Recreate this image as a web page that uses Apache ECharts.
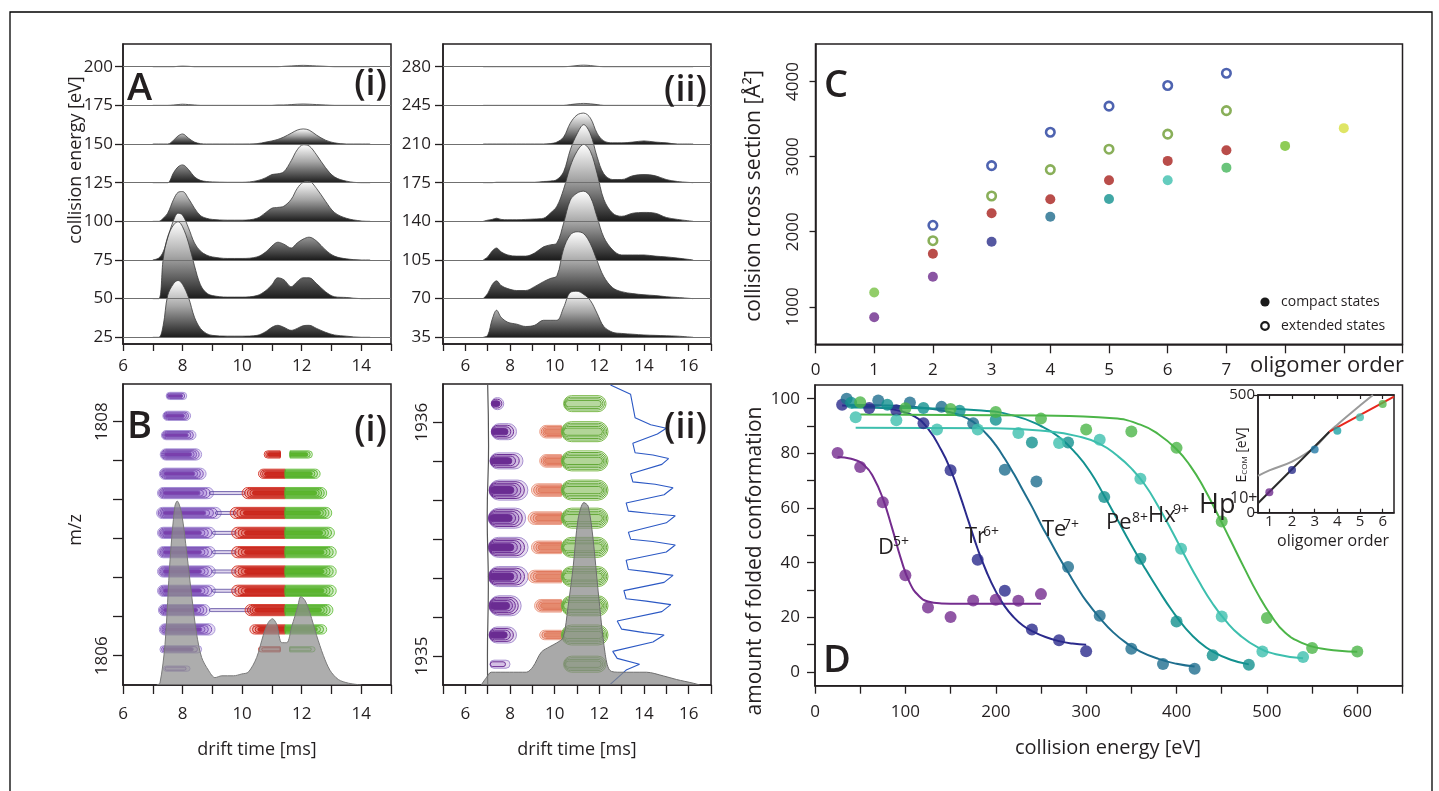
<!DOCTYPE html>
<html><head><meta charset="utf-8">
<script src="https://cdn.jsdelivr.net/npm/echarts@6/dist/echarts.min.js"></script>
<style>html,body{margin:0;padding:0;background:#fff}#c{width:1439px;height:791px}</style>
</head><body><div id="c"></div>
<script>
// ================= DATA =================
// Panel A(i): drift-time profiles (intensity, 100 = one row spacing) at collision energies
const driftAi = [7.0,7.2,7.35,7.5,7.7,7.85,8.0,8.2,8.4,8.6,8.8,9.0,9.5,10.0,10.5,10.8,11.0,11.2,11.4,11.65,11.85,12.05,12.25,12.5,12.8,13.1,13.5,14.0,14.3];
const energiesAi = [25,50,75,100,125,150,175,200];
const ai25  = [0,0,31,108,139,147,137,103,52,23,10,5,3,3,5,15,26,31,26,18,23,30,31,23,13,6,3,0,0];
const ai50  = [0,0,103,160,191,199,186,144,85,36,15,8,4,4,8,21,36,54,49,31,44,54,54,39,18,5,3,0,0];
const ai75  = [0,5,21,57,103,121,116,83,44,23,13,8,4,4,8,21,36,46,41,31,44,54,59,49,26,10,3,0,0];
const ai100 = [0,0,8,21,57,75,77,59,34,15,8,5,3,3,8,23,34,36,39,57,85,101,103,85,52,23,8,1,0];
const ai125 = [0,0,0,0,26,41,46,34,15,6,3,2,1,1,5,13,21,23,28,57,85,98,95,72,39,15,4,0,0];
const ai150 = [0,0,0,0,10,21,26,15,5,1,0,0,0,0,1,5,8,12,18,28,36,39,36,23,10,3,0,0,0];
const ai175 = [0,0,0,0,1,2,3,2,1,0,0,0,0,0,0,0,0,1,1,2,3,3.5,3,2,1,0,0,0,0];
const ai200 = [0,0,0,0,0,1,1.5,1,0,0,0,0,0,0,0,0,0,0,1,2,3,3.5,3,2,1,0,0,0,0];

// Panel A(ii)
const driftAii = [6.8,7.0,7.2,7.4,7.6,7.9,8.3,8.7,9.1,9.5,9.8,10.1,10.4,10.7,11.0,11.3,11.6,11.9,12.2,12.6,13.0,13.5,14.0,14.5,15.0,15.5,16.2];
const energiesAii = [35,70,105,140,175,210,245,280];
const aii35  = [0,5,46,70,52,39,34,28,31,44,44,44,77,116,119,111,95,62,28,13,10,8,6,5,4,3,0];
const aii70  = [0,13,36,46,34,26,21,21,31,44,52,59,129,165,173,168,142,98,57,28,18,13,10,8,5,3,0];
const aii105 = [0,8,23,31,21,13,10,10,18,34,39,44,95,155,173,178,163,111,59,26,13,13,13,10,8,5,0];
const aii140 = [0,3,5,8,5,4,4,5,6,8,21,39,83,142,181,199,181,124,57,21,13,21,23,21,10,5,0];
const aii175 = [0,0,0,1,1,1,1,1,1,3,4,8,28,85,126,150,126,67,23,8,8,18,21,18,8,3,0];
const aii210 = [0,0,0,0,0,0,0,0,0,0,1,5,18,54,75,80,67,28,8,3,3,5,8,5,3,0,0];
const aii245 = [0,0,0,0,0,0,0,0,0,0,0,0,0,2,4,5,4,2,0,0,0,0,0,0,0,0,0];
const aii280 = [0,0,0,0,0,0,0,0,0,0,0,0,0,1,3,4,3,1,0,0,0,0,0,0,0,0,0];

// Panel B(i): [drift left, drift right, m/z, contour level]
const purpleBi = [[7.36,8.25,1805.89,1],[7.24,8.64,1806.055,2],[7.22,9.09,1806.225,4],[7.19,8.92,1806.39,4],[7.16,9.1,1806.555,4],[7.16,9.1,1806.72,4],[7.16,9.1,1806.885,4],[7.16,9.1,1807.05,4],[7.13,9.3,1807.22,4],[7.16,9.04,1807.39,4],[7.22,8.79,1807.555,4],[7.25,8.64,1807.72,4],[7.29,8.45,1807.885,3],[7.34,8.27,1808.05,3],[7.45,8.14,1808.22,2]];
const neckBi = [[8.9,10.3,1806.39],[9.0,9.8,1806.555],[9.0,9.8,1806.72],[9.0,9.8,1806.885],[9.0,9.8,1807.05],[9.1,9.8,1807.22],[8.9,10.1,1807.39]];
const redBi = [[10.55,11.28,1806.055,1],[10.26,11.45,1806.225,3],[10.1,11.45,1806.39,4],[9.65,11.45,1806.555,4],[9.65,11.45,1806.72,4],[9.65,11.45,1806.885,4],[9.65,11.45,1807.05,4],[9.6,11.45,1807.22,4],[10.0,11.45,1807.39,4],[10.55,11.45,1807.555,3],[10.74,11.28,1807.72,2]];
const greenBi = [[11.6,12.45,1806.055,1],[11.45,12.84,1806.225,3],[11.45,13.05,1806.39,4],[11.45,13.16,1806.555,4],[11.45,13.16,1806.72,4],[11.45,13.16,1806.885,4],[11.45,13.1,1807.05,4],[11.45,13.01,1807.22,4],[11.45,12.84,1807.39,4],[11.45,12.62,1807.555,3],[11.61,12.36,1807.72,2]];
const profileBiDrift = [7.13,7.24,7.41,7.58,7.74,7.82,7.97,8.14,8.31,8.47,8.64,8.87,9.09,9.32,9.71,9.99,10.21,10.49,10.71,10.88,11.02,11.16,11.33,11.5,11.67,11.86,11.97,12.11,12.28,12.5,12.73,12.95,13.23,13.57,14.01];
const profileBiInt = [0,1,22,68,97,100,93,72,48,28,15,8,4,5,5,6,7,15,27,34,36,33,23,23,32,42,48,46,39,27,16,8,3,1,0];

// Panel B(ii)
const purpleBii = [[7.1,8.0,1934.965,1],[7.06,8.29,1935.09,3],[7.06,8.5,1935.215,4],[7.03,8.81,1935.34,4],[7.03,8.81,1935.465,4],[7.03,8.7,1935.59,4],[7.06,8.8,1935.71,4],[7.1,8.58,1935.835,3],[7.16,8.29,1935.96,3],[7.16,7.72,1936.08,2]];
const redBii = [[9.33,10.3,1935.09,2],[9.1,10.3,1935.215,3],[8.81,10.3,1935.34,3],[8.96,10.3,1935.465,3],[8.81,10.3,1935.59,3],[8.96,10.3,1935.71,3],[9.33,10.3,1935.835,3],[9.33,10.3,1935.96,3]];
const greenBii = [[10.4,12.3,1934.965,3],[10.3,12.39,1935.09,4],[10.3,12.39,1935.215,4],[10.3,12.39,1935.34,4],[10.3,12.39,1935.465,4],[10.3,12.39,1935.59,4],[10.3,12.39,1935.71,4],[10.3,12.39,1935.835,4],[10.3,12.39,1935.96,4],[10.4,12.3,1936.08,3]];
const blueBii = [[12.5,1936.16],[13.4,1936.12],[13.6,1936.02],[14.3,1935.99],[15.0,1935.975],[14.6,1935.95],[13.5,1935.91],[13.6,1935.87],[14.4,1935.86],[15.1,1935.845],[14.8,1935.82],[13.4,1935.78],[13.5,1935.745],[14.5,1935.735],[15.3,1935.72],[14.9,1935.69],[13.2,1935.655],[13.3,1935.62],[14.3,1935.61],[15.4,1935.6],[15.0,1935.57],[13.3,1935.53],[13.4,1935.5],[14.4,1935.49],[15.4,1935.475],[15.0,1935.445],[13.2,1935.41],[13.3,1935.37],[14.2,1935.36],[15.3,1935.345],[14.9,1935.315],[13.1,1935.28],[13.2,1935.245],[14.1,1935.235],[15.2,1935.22],[14.8,1935.19],[12.8,1935.15],[13.0,1935.115],[14.0,1935.1],[14.9,1935.09],[14.4,1935.06],[12.6,1935.02],[12.8,1934.99],[13.8,1934.965],[13.2,1934.94],[12.5,1934.88]];
const edgeBii = [[7.0,1936.16],[7.04,1935.9],[6.98,1935.6],[7.03,1935.3],[6.99,1935.0],[7.0,1934.88]];
const profileBiiDrift = [6.71,6.94,7.16,7.98,8.73,9.03,9.4,9.78,10.08,10.38,10.6,10.83,11.05,11.31,11.5,11.72,11.95,12.25,12.47,12.92,13.52,14.11,14.86,15.46,16.2,16.5];
const profileBiiInt = [0,4,7,7,7,10,18,21,23,26,43,65,91,100,98,80,51,18,8,7,7,7,5,3,1,0];

// Panel C: collision cross sections [Å²] vs oligomer order
const orderCompact = [1,1,2,3,4,5,6,7,8,9];
const ccsCompact = [860,1190,1400,1867,2200,2436,2685,2853,3143,3379];
const orderRed = [2,3,4,5,6,7];
const ccsRed = [1707,2245,2432,2685,2943,3085];
const orderExtBlue = [2,3,4,5,6,7];
const ccsExtBlue = [2085,2880,3325,3672,3947,4111];
const orderExtGreen = [2,3,4,5,6,7];
const ccsExtGreen = [1880,2476,2827,3099,3299,3613];

// Panel D: amount of folded conformation [%] vs collision energy [eV]
const ceD = [25,50,75,100,125,150,175,200,225,250];
const foldD = [80.1,75,62.1,35.4,23.6,20.1,26.2,26.4,26.1,28.5];
const ceTr = [30,60,90,120,150,180,210,240,270,300];
const foldTr = [97.8,96.6,95.8,91,73.8,41.1,29.7,15.6,11.6,7.6];
const ceTe = [35,70,105,140,175,210,245,280,315,350,385,420];
const foldTe = [100,99.3,98.6,97,91,74,69.7,38.4,20.6,8.5,2.9,1.2];
const cePe = [40,80,120,160,200,240,280,320,360,400,440,480];
const foldPe = [98.5,97.8,96.6,95.6,92.3,84,84,64,41.4,18.5,6.1,2.7];
const ceHx = [45,90,135,180,225,270,315,360,405,450,495,540];
const foldHx = [93.2,92.1,88.7,88.7,87.4,83.8,85,70.7,45.1,20.3,7.5,5.5];
const ceHp = [50,100,150,200,250,300,350,400,450,500,550,600];
const foldHp = [98.7,96.5,96.2,95.1,92.7,88.7,88,82,55.1,19.8,8.8,7.5];
// fitted curves
const fitD = [[25,78.7],[40,78],[55,75.5],[65,71],[75,63.5],[85,53],[95,41.5],[105,32.5],[115,27.8],[125,25.8],[140,25.1],[160,25],[250,25]];
const fitTr = [[30,97.5],[50,97.3],[70,96.8],[90,95.8],[110,93.5],[125,89],[140,81],[150,74],[160,65],[170,55],[180,45],[190,36.5],[200,29.5],[210,24],[220,20],[230,17],[240,15],[255,12.8],[270,11.3],[285,10.4],[300,10]];
const fitTe = [[35,97.8],[70,97.6],[105,97.1],[140,95.8],[160,94],[175,91.5],[190,87],[200,83],[210,78],[220,72.5],[230,66.5],[240,60.5],[250,54],[260,48],[270,42],[280,36.5],[290,31],[300,26],[315,19.8],[330,14.5],[345,10.5],[360,7.5],[380,4.8],[400,3],[420,2]];
const fitPe = [[40,96.8],[120,96.5],[180,95.8],[220,93.8],[250,90],[270,86],[290,79.5],[305,73],[320,64.5],[335,55.5],[350,46.5],[365,38],[380,30],[395,22.5],[410,16],[425,11],[440,7.5],[460,4.5],[480,2.8]];
const fitHx = [[45,89.4],[200,89.2],[260,88],[290,86.3],[315,83.5],[335,79],[350,74.5],[365,68.5],[380,60.5],[395,51.5],[410,42],[425,33],[440,25],[455,18.5],[470,13.5],[490,9],[510,6.5],[540,5]];
const fitHp = [[50,94.2],[250,93.8],[330,92.8],[360,90.5],[380,87],[400,81.5],[415,75.5],[430,67.5],[445,58],[460,48],[475,38],[490,28.5],[505,20.5],[520,14.5],[540,10.5],[560,8.6],[580,7.8],[600,7.4]];
// inset: E_COM at transition vs oligomer order
const insetOrder = [1,2,3,4,5,6];
const insetEcom = [87,181,269,348,405,462];
const insetFitBlack = [[0.5,40],[3.65,344]];
const insetFitGray = [[0.5,156],[1,180],[2,217],[3,278],[3.65,344],[4,374],[5,455],[5.57,500]];
const insetFitRed = [[3.65,344],[6.5,493]];

// ================= STYLE =================
const FONT = '"Open Sans","Noto Sans",sans-serif';
const INK = '#231f20';
const compactColors = ['#6d2b8c','#77c043','#6d2b8c','#2b2e8a','#1e6b8c','#12918f','#3dbfae','#45b55a','#72bf2c','#d7df3e'];
const insetColors = ['#6d2b8c','#2b2e8a','#2379a6','#1ea3a6','#43bfae','#56b84e'];
const dColors = {D:'#742c8e', Tr:'#2b2a8c', Te:'#1f6e8e', Pe:'#13918f', Hx:'#3dbfae', Hp:'#4cb548'};

const chart = echarts.init(document.getElementById('c'), null, {renderer:'canvas'});

function axis(gi, o) {
  return Object.assign({
    gridIndex: gi, type:'value',
    axisLine:{show:true, onZero:false, lineStyle:{color:INK, width:1.5}},
    axisTick:{show:true, length:7, lineStyle:{color:INK, width:1.3}},
    splitLine:{show:false},
    axisLabel:{fontFamily:FONT, color:INK, fontSize:17}
  }, o);
}
const evenFmt = v => (Math.abs(v % 2) < 1e-9 ? String(v) : '');
const plainFmt = v => String(Math.round(v));

const grids = [
  {left:123, top:44, width:268, height:300},
  {left:443, top:44, width:268, height:300},
  {left:123, top:384, width:268, height:301},
  {left:443, top:384, width:268, height:301},
  {left:815.5, top:44, width:587, height:300.3},
  {left:815, top:385, width:587.5, height:300.7},
  {left:1258, top:395, width:136, height:117.7}
].map(g => Object.assign({show:true, borderColor:INK, borderWidth:1.5, backgroundColor:'transparent'}, g));

const xAxes = [
  axis(0,{min:6,max:15,interval:1, axisLabel:{fontFamily:FONT,color:INK,fontSize:17,margin:14,formatter:evenFmt}}),
  axis(1,{min:5,max:17,interval:1, axisLabel:{fontFamily:FONT,color:INK,fontSize:17,margin:14,formatter:v=>(v>=6&&v<=16?evenFmt(v):'')}}),
  axis(2,{min:6,max:15,interval:1, axisTick:{show:true,length:9,lineStyle:{color:INK,width:1.3}}, axisLabel:{fontFamily:FONT,color:INK,fontSize:17,margin:21,formatter:evenFmt}}),
  axis(3,{min:5,max:17,interval:1, axisTick:{show:true,length:9,lineStyle:{color:INK,width:1.3}}, axisLabel:{fontFamily:FONT,color:INK,fontSize:17,margin:21,formatter:v=>(v>=6&&v<=16?evenFmt(v):'')}}),
  axis(4,{min:0,max:10,interval:1, axisTick:{show:true,length:9,lineStyle:{color:INK,width:1.3}}, axisLabel:{fontFamily:FONT,color:INK,fontSize:17,margin:17,formatter:v=>(v<=7?String(v):'')}}),
  axis(5,{min:0,max:650,interval:50, axisTick:{show:true,length:8,lineStyle:{color:INK,width:1.3}}, axisLabel:{fontFamily:FONT,color:INK,fontSize:17,margin:18,formatter:v=>(v%100===0?String(v):'')}}),
  axis(6,{min:0.5,max:6.5, axisLine:{show:true,onZero:false,lineStyle:{color:INK,width:1.5}}, axisTick:{show:true,inside:true,length:4,customValues:insetOrder,lineStyle:{color:INK,width:1.2}}, axisLabel:{fontFamily:FONT,color:INK,fontSize:15,margin:2,customValues:insetOrder}}),
  axis(6,{min:0.5,max:6.5, position:'top', axisLine:{show:true,onZero:false,lineStyle:{color:INK,width:1.5}}, axisTick:{show:true,inside:true,length:4,customValues:insetOrder,lineStyle:{color:INK,width:1.2}}, axisLabel:{show:false}})
];
const bTicksI = [1806,1806+1/3,1806+2/3,1807,1807+1/3,1807+2/3,1808];
const bTicksII = [0,1,2,3,4,5,6].map(k=>1935+k/6);
const yAxes = [
  axis(0,{min:20.67,max:214.68, axisTick:{show:true,length:8,customValues:energiesAi,lineStyle:{color:INK,width:1.3}}, axisLabel:{fontFamily:FONT,color:INK,fontSize:17,margin:10,customValues:energiesAi,formatter:plainFmt}}),
  axis(1,{min:28.93,max:300.55, axisTick:{show:true,length:8,customValues:energiesAii,lineStyle:{color:INK,width:1.3}}, axisLabel:{fontFamily:FONT,color:INK,fontSize:17,margin:12,customValues:energiesAii,formatter:plainFmt}}),
  axis(2,{min:1805.75,max:1808.322, axisTick:{show:true,length:10,customValues:bTicksI,lineStyle:{color:INK,width:1.3}}, axisLabel:{fontFamily:FONT,color:INK,fontSize:17,margin:12,rotate:90,customValues:[1806,1808],formatter:plainFmt}}),
  {gridIndex:2, type:'value', min:0, max:163.6, show:false},
  axis(3,{min:1934.876,max:1936.164, axisTick:{show:true,length:10,customValues:bTicksII,lineStyle:{color:INK,width:1.3}}, axisLabel:{fontFamily:FONT,color:INK,fontSize:17,margin:12,rotate:90,customValues:[1935,1936],formatter:plainFmt}}),
  {gridIndex:3, type:'value', min:0, max:165, show:false},
  axis(4,{min:500,max:4500, axisTick:{show:true,length:6,customValues:[1000,2000,3000,4000],lineStyle:{color:INK,width:1.3}}, axisLabel:{fontFamily:FONT,color:INK,fontSize:17,margin:14,rotate:90,customValues:[1000,2000,3000,4000],formatter:plainFmt}}),
  axis(5,{min:-5,max:105, axisTick:{show:true,length:8,customValues:[0,10,20,30,40,50,60,70,80,90,100],lineStyle:{color:INK,width:1.3}}, axisLabel:{fontFamily:FONT,color:INK,fontSize:17,margin:15,customValues:[0,20,40,60,80,100],formatter:plainFmt}}),
  axis(6,{min:0,max:500, axisTick:{show:true,length:4,customValues:[0,500],lineStyle:{color:INK,width:1.2}}, axisLabel:{fontFamily:FONT,color:INK,fontSize:15,margin:3,customValues:[0,500],formatter:plainFmt}})
];

// ---------- series builders ----------
const ridgeGrad = {type:'linear',x:0,y:0,x2:0,y2:1,colorStops:[{offset:0,color:'#ffffff'},{offset:0.45,color:'#a6a6a6'},{offset:1,color:'#1c1c1c'}]};
function ridges(xs, energies, traces, step, xi, yi) {
  const out = [];
  for (let i = energies.length - 1; i >= 0; i--) {
    const b = energies[i];
    out.push({type:'line', xAxisIndex:xi, yAxisIndex:yi, symbol:'none', smooth:0.35, silent:true,
      data: xs.map((x,j)=>[x, b + traces[i][j]*step/100]),
      lineStyle:{color:'#3a3a3a', width:0.8},
      areaStyle:{origin:b, opacity:1, color:ridgeGrad},
      markLine:{silent:true, symbol:'none', label:{show:false}, animation:false,
        lineStyle:{color:'#707070', width:1, type:'solid'}, data:[{yAxis:b}]},
      z:2});
  }
  return out;
}
function blobRenderer(kind, cfg) {
  return function(params, api) {
    const l = api.value(0), r = api.value(1), m = api.value(2), lev = api.value(3);
    const a = api.coord([l, m]), b = api.coord([r, m]);
    const W = b[0] - a[0];
    const H = cfg.h0 + cfg.h1 * lev;
    const n = lev + 1;
    const ch = [];
    for (let k = 0; k < n; k++) {
      const f = k / n;
      const hh = H * (1 - f * 0.8);
      let x0 = a[0], x1 = b[0];
      if (kind !== 'right') x0 += W * f * cfg.inL;
      if (kind !== 'left') x1 -= W * f * cfg.inR;
      const rr = Math.max(0, Math.min(hh, (x1 - x0) / 2));
      const rad = kind === 'left' ? [rr,0,0,rr] : kind === 'right' ? [0,rr,rr,0] : rr;
      ch.push({type:'rect', shape:{x:x0, y:a[1]-hh, width:Math.max(1,x1-x0), height:2*hh, r:rad},
        style:{fill: (k === n-1 && lev > 1) ? cfg.core : cfg.fill, stroke: k === 0 ? cfg.outer : cfg.ring, lineWidth: 1}});
    }
    return {type:'group', children:ch};
  };
}
function blobs(data, kind, cfg, xi, yi, z) {
  return {type:'custom', xAxisIndex:xi, yAxisIndex:yi, silent:true, z:z||3,
    encode:{x:[0,1], y:2}, data:data, renderItem:blobRenderer(kind, cfg)};
}
function neckRender(params, api) {
  const a = api.coord([api.value(0), api.value(2)]), b = api.coord([api.value(1), api.value(2)]);
  return {type:'rect', shape:{x:a[0], y:a[1]-1.5, width:b[0]-a[0], height:3, r:1.5}, style:{fill:'rgba(150,120,200,0.3)', stroke:'#5a4a9e', lineWidth:0.8}};
}
const zip = (xs, ys) => xs.map((x,i)=>[x, ys[i]]);

const series = [];
series.push(...ridges(driftAi, energiesAi, [ai25,ai50,ai75,ai100,ai125,ai150,ai175,ai200], 25, 0, 0));
series.push(...ridges(driftAii, energiesAii, [aii35,aii70,aii105,aii140,aii175,aii210,aii245,aii280], 35, 1, 1));

// B(i)
series.push(blobs(purpleBi, 'both', {h0:1.6,h1:1.0,inL:0.12,inR:0.3,outer:'#a996d8',ring:'#7f55b8',fill:'rgba(140,95,205,0.22)',core:'#7a40ad'}, 2, 2));
series.push({type:'custom', xAxisIndex:2, yAxisIndex:2, silent:true, z:3, encode:{x:[0,1],y:2}, data:neckBi, renderItem:neckRender});
series.push(blobs(redBi, 'left', {h0:1.6,h1:1.0,inL:0.3,inR:0,outer:'#d9463a',ring:'#c9271d',fill:'rgba(215,45,30,0.22)',core:'#cc2a1f'}, 2, 2));
series.push(blobs(greenBi, 'right', {h0:1.6,h1:1.0,inL:0,inR:0.3,outer:'#76c652',ring:'#58b22f',fill:'rgba(100,190,60,0.22)',core:'#5cb52e'}, 2, 2));
series.push({type:'line', xAxisIndex:2, yAxisIndex:3, symbol:'none', smooth:0.3, silent:true, z:4,
  data:zip(profileBiDrift, profileBiInt), lineStyle:{color:'#7a7a7a', width:1},
  areaStyle:{color:'#8e8e8e', opacity:0.72}});

// B(ii)
series.push({type:'line', xAxisIndex:3, yAxisIndex:4, symbol:'none', silent:true, z:3, data:edgeBii, smooth:0.5, lineStyle:{color:'#555', width:1.2}});
series.push(blobs(purpleBii, 'both', {h0:2,h1:2,inL:0.04,inR:0.45,outer:'#a78fd0',ring:'#6d2f95',fill:'rgba(120,60,170,0.18)',core:'#6a2c92'}, 3, 4));
series.push(blobs(redBii, 'left', {h0:1.5,h1:1.6,inL:0.3,inR:0,outer:'#eba08a',ring:'#e0785c',fill:'rgba(230,120,90,0.25)',core:'#e58a6e'}, 3, 4));
series.push(blobs(greenBii, 'both', {h0:2,h1:2,inL:0.06,inR:0.15,outer:'#7dba4c',ring:'#64a838',fill:'rgba(120,185,70,0.08)',core:'rgba(106,170,58,0.35)'}, 3, 4));
series.push({type:'line', xAxisIndex:3, yAxisIndex:4, symbol:'none', silent:true, z:3, data:blueBii, lineStyle:{color:'#2b58c4', width:1.1}});
series.push({type:'line', xAxisIndex:3, yAxisIndex:5, symbol:'none', smooth:0.3, silent:true, z:4,
  data:zip(profileBiiDrift, profileBiiInt), lineStyle:{color:'#6e6e6e', width:1},
  areaStyle:{color:'#888888', opacity:0.72}});

// C
series.push({type:'scatter', xAxisIndex:4, yAxisIndex:6, symbolSize:10, z:5, data:zip(orderCompact, ccsCompact),
  itemStyle:{color:p=>compactColors[p.dataIndex]}});
series.push({type:'scatter', xAxisIndex:4, yAxisIndex:6, symbolSize:10, z:5, data:zip(orderRed, ccsRed), itemStyle:{color:'#a8201d'}});
series.push({type:'scatter', xAxisIndex:4, yAxisIndex:6, symbolSize:8.5, z:5, data:zip(orderExtBlue, ccsExtBlue), itemStyle:{color:'#fff', borderColor:'#223c9c', borderWidth:2.6}});
series.push({type:'scatter', xAxisIndex:4, yAxisIndex:6, symbolSize:8.5, z:5, data:zip(orderExtGreen, ccsExtGreen), itemStyle:{color:'#fff', borderColor:'#6b9b2f', borderWidth:2.6}});

// D
const dSets = [['D',ceD,foldD,fitD],['Tr',ceTr,foldTr,fitTr],['Te',ceTe,foldTe,fitTe],['Pe',cePe,foldPe,fitPe],['Hx',ceHx,foldHx,fitHx],['Hp',ceHp,foldHp,fitHp]];
dSets.forEach(([k, xs, ys, fit]) => {
  series.push({type:'line', xAxisIndex:5, yAxisIndex:7, symbol:'none', smooth:0.5, silent:true, z:4,
    data:fit, lineStyle:{color:dColors[k], width:2}});
});
dSets.forEach(([k, xs, ys]) => {
  series.push({type:'scatter', xAxisIndex:5, yAxisIndex:7, symbolSize:12, z:5, data:zip(xs, ys), itemStyle:{color:dColors[k]}});
});
// inset
series.push({type:'line', xAxisIndex:6, yAxisIndex:8, symbol:'none', smooth:0.4, silent:true, z:6, data:insetFitGray, lineStyle:{color:'#9a9a9a', width:2}});
series.push({type:'line', xAxisIndex:6, yAxisIndex:8, symbol:'none', silent:true, z:6, data:insetFitBlack, lineStyle:{color:'#2a2a2a', width:2}});
series.push({type:'line', xAxisIndex:6, yAxisIndex:8, symbol:'none', silent:true, z:6, data:insetFitRed, lineStyle:{color:'#e8261c', width:2}});
series.push({type:'scatter', xAxisIndex:6, yAxisIndex:8, symbolSize:8, z:7, data:zip(insetOrder, insetEcom), itemStyle:{color:p=>insetColors[p.dataIndex]}});

// ---------- text / decorations ----------
function txt(text, x, y, o) {
  o = o || {};
  return {type:'text', x:x, y:y, rotation:o.rot||0, z:100, silent:true,
    style:{text:text, fill:INK, fontFamily:FONT, fontSize:o.size||18, fontWeight:o.weight||'normal',
      align:o.align||'center', verticalAlign:o.va||'middle', rich:o.rich}};
}
const R = Math.PI/2;
const graphic = [
  {type:'rect', shape:{x:10,y:12,width:1422,height:820}, style:{fill:'none', stroke:'#000', lineWidth:1.3}, z:100, silent:true},
  txt('A', 127, 89, {size:38, weight:600, align:'left'}),
  txt('(i)', 387, 85, {size:36, weight:600, align:'right'}),
  txt('(ii)', 707, 91, {size:36, weight:600, align:'right'}),
  txt('B', 127, 427, {size:38, weight:600, align:'left'}),
  txt('(i)', 387, 431, {size:36, weight:600, align:'right'}),
  txt('(ii)', 707, 428, {size:36, weight:600, align:'right'}),
  txt('C', 824, 86, {size:38, weight:600, align:'left'}),
  txt('D', 823, 661, {size:38, weight:600, align:'left'}),
  txt('collision energy [eV]', 76, 160, {size:18, rot:R}),
  txt('m/z', 76, 530, {size:18, rot:R}),
  txt('drift time [ms]', 257, 750, {size:18}),
  txt('drift time [ms]', 577, 750, {size:18}),
  txt('collision cross section [Å²]', 754, 196, {size:21, rot:R}),
  txt('oligomer order', 1404, 366, {size:22, align:'right'}),
  txt('amount of folded conformation', 755, 561, {size:21, rot:R}),
  txt('collision energy [eV]', 1108, 748, {size:20}),
  // C legend
  {type:'circle', shape:{cx:1265, cy:302, r:4.6}, style:{fill:'#1a1a1a'}, z:100, silent:true},
  txt('compact states', 1281, 302, {size:14, align:'left'}),
  {type:'circle', shape:{cx:1265, cy:326, r:3.8}, style:{fill:'#fff', stroke:'#1a1a1a', lineWidth:2.2}, z:100, silent:true},
  txt('extended states', 1281, 326, {size:14, align:'left'}),
  // D labels
  txt('D', 878, 548, {size:22, align:'left'}), txt('5+', 893, 542, {size:14, align:'left'}),
  txt('Tr', 965, 537, {size:22, align:'left'}), txt('6+', 983, 532, {size:14, align:'left'}),
  txt('Te', 1042, 530, {size:22, align:'left'}), txt('7+', 1063, 525, {size:14, align:'left'}),
  txt('Pe', 1106, 523, {size:22, align:'left'}), txt('8+', 1132, 518, {size:14, align:'left'}),
  txt('Hx', 1148, 516, {size:22, align:'left'}), txt('9+', 1173, 510, {size:14, align:'left'}),
  txt('Hp', 1199, 505, {size:27, align:'left'}), txt('10+', 1230, 498, {size:16, align:'left'}),
  // inset labels
  txt('{e|E}{s|COM}{e| [eV]}', 1242, 455, {rot:R, rich:{e:{fontSize:14, fontFamily:FONT, fill:INK}, s:{fontSize:8, fontFamily:FONT, fill:INK, verticalAlign:'bottom'}}}),
  txt('oligomer order', 1333, 541, {size:16})
];

chart.setOption({
  animation:false,
  textStyle:{fontFamily:FONT},
  grid:grids, xAxis:xAxes, yAxis:yAxes, series:series, graphic:graphic
});
</script></body></html>
